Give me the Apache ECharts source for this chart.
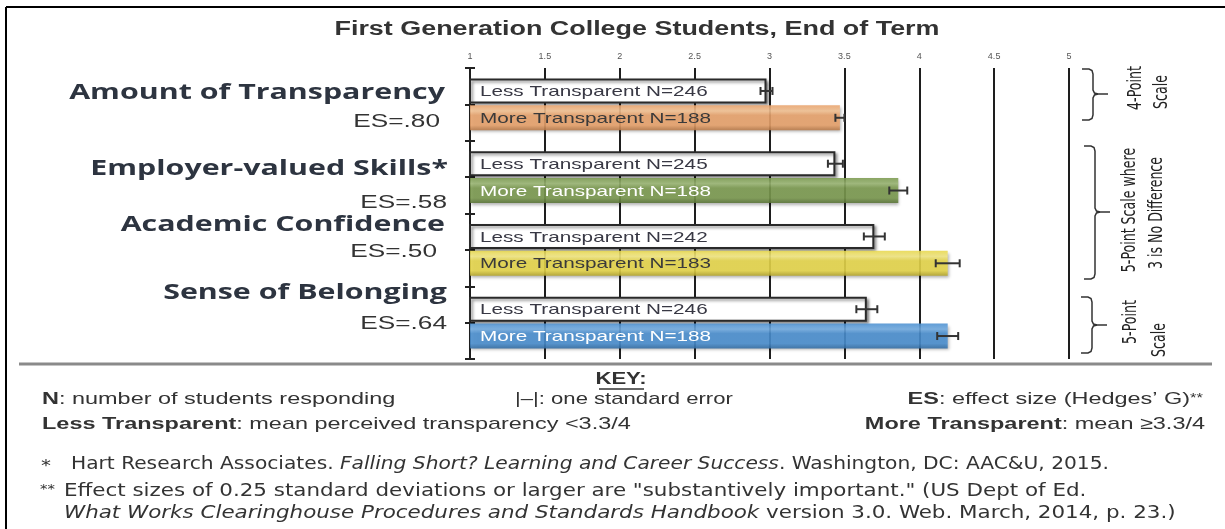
<!DOCTYPE html>
<html>
<head>
<meta charset="utf-8">
<title>First Generation College Students, End of Term</title>
<script src="https://cdn.jsdelivr.net/npm/echarts@6/dist/echarts.min.js"></script>
<style>
  html, body { margin: 0; padding: 0; background: #fff; }
  #chart { width: 1225px; height: 529px; }
</style>
</head>
<body>
<div id="chart"></div>
<script>
// data
const categories = ['Amount of Transparency', 'Employer-valued Skills*', 'Academic Confidence', 'Sense of Belonging'];
const effectSizes = ['ES=.80', 'ES=.58', 'ES=.50', 'ES=.64'];
const groups = ['Less Transparent', 'More Transparent'];
const lessMean = [2.98, 3.44, 3.70, 3.65];
const lessSE = [0.04, 0.05, 0.07, 0.07];
const lessN = [246, 245, 242, 246];
const moreMean = [3.47, 3.86, 4.19, 4.19];
const moreSE = [0.03, 0.06, 0.08, 0.07];
const moreN = [188, 188, 183, 188];
const xTicks = [1, 1.5, 2, 2.5, 3, 3.5, 4, 4.5, 5];
const scaleNotes = [['4-Point', 'Scale'], ['5-Point Scale where', '3 is No Difference'], ['5-Point', 'Scale']];

// styling / layout
const S = 1.38; // the source picture is stretched horizontally
const SANS = "'Liberation Sans', Arial, sans-serif";
const NARROW = "'Liberation Sans Narrow', 'DejaVu Sans Condensed', 'Liberation Sans', sans-serif";
const BOLD = "'Open Sans', 'Liberation Sans', sans-serif";
const BAR_GAP = 0.08;
const CAT_GAP = 0.29;
const moreColors = [
  { hi: '#f6c596', base: '#e9a36c', dark: '#b97a48' },
  { hi: '#9cb875', base: '#7b9a4f', dark: '#5a7437' },
  { hi: '#f5ea85', base: '#e7d74b', dark: '#b5a62c' },
  { hi: '#74aee4', base: '#4a8fd0', dark: '#336ea6' }
];
const moreLabelColors = ['#3a3a3a', '#ffffff', '#3a3a3a', '#ffffff'];
const leftLabelPos = [[445, 93, 440, 122], [448, 169, 447, 203], [445, 225, 437, 252], [447, 293, 447, 324]];
const brackets = [
  { x: 1093, top: 69, bottom: 120, mid: 94 },
  { x: 1095, top: 146, bottom: 279, mid: 212 },
  { x: 1092, top: 297, bottom: 353, mid: 325 }
];
const notePos = [[[1136, 88], [1162, 92]], [[1130, 210], [1157, 213]], [[1131, 322], [1160, 340]]];

const chart = echarts.init(document.getElementById('chart'));

function txt(x, y, text, o) {
  const align = o.align || 'left';
  return {
    type: 'text', x: x, y: y, silent: true,
    scaleX: o.scaleX == null ? S : o.scaleX,
    scaleY: o.scaleY == null ? 1 : o.scaleY,
    rotation: o.rotation || 0,
    style: {
      text: text, fill: o.color || '#333',
      fontSize: o.size, fontFamily: o.family || SANS,
      fontWeight: o.weight || 'normal', fontStyle: o.fontStyle || 'normal',
      align: align, textAlign: align,
      verticalAlign: 'middle', textVerticalAlign: 'middle',
      lineHeight: o.lineHeight, rich: o.rich
    }
  };
}

function richSet(size, family) {
  const base = { fontSize: size, fontFamily: family, fill: '#333' };
  return {
    n: base,
    b: Object.assign({}, base, { fontWeight: 'bold' }),
    i: Object.assign({}, base, { fontStyle: 'italic' }),
    s: Object.assign({}, base, { fontSize: size - 5 })
  };
}

// curly bracket "}" as two polylines plus the middle nub
function bracketLines(b) {
  const st = { stroke: '#333', lineWidth: 1.5, fill: null };
  const x = b.x;
  return [
    { type: 'polyline', silent: true, style: st, shape: { points: [
      [x - 11, b.top], [x - 4, b.top], [x - 1, b.top + 1.5], [x, b.top + 5],
      [x, b.mid - 4], [x + 1.5, b.mid - 1], [x + 5, b.mid], [x + 15, b.mid]
    ] } },
    { type: 'polyline', silent: true, style: st, shape: { points: [
      [x + 5, b.mid], [x + 1.5, b.mid + 1], [x, b.mid + 4],
      [x, b.bottom - 5], [x - 1, b.bottom - 1.5], [x - 4, b.bottom], [x - 11, b.bottom]
    ] } }
  ];
}

const barItems = [];
categories.forEach(function (c, i) {
  barItems.push([i, lessMean[i], lessSE[i], 0, lessN[i]]);
  barItems.push([i, moreMean[i], moreSE[i], 1, moreN[i]]);
});

function renderBarExtras(params, api) {
  const cat = api.value(0), val = api.value(1), se = api.value(2), g = api.value(3), n = api.value(4);
  const c = api.coord([val, cat]);
  const band = api.size([0, 1])[1];
  const bw = band * (1 - CAT_GAP) / (2 + BAR_GAP);
  const y = c[1] - (2 + BAR_GAP) * bw / 2 + g * bw * (1 + BAR_GAP) + bw / 2;
  const x0 = api.coord([xTicks[0], cat])[0];
  const x1 = api.coord([val - se, cat])[0];
  const x2 = api.coord([val + se, cat])[0];
  const lineStyle = { stroke: '#333', lineWidth: 2 };
  return {
    type: 'group',
    children: [
      {
        type: 'text', x: x0 + 10, y: y + 1, scaleX: S,
        style: {
          text: groups[g] + ' N=' + n,
          fill: g === 0 ? '#383844' : moreLabelColors[cat],
          fontSize: 15, fontFamily: SANS,
          align: 'left', textAlign: 'left', verticalAlign: 'middle', textVerticalAlign: 'middle'
        }
      },
      { type: 'line', shape: { x1: x1, y1: y, x2: x2, y2: y }, style: lineStyle },
      { type: 'line', shape: { x1: x1, y1: y - 4, x2: x1, y2: y + 4 }, style: lineStyle },
      { type: 'line', shape: { x1: x2, y1: y - 4, x2: x2, y2: y + 4 }, style: lineStyle }
    ]
  };
}

const graphics = [];
// frame and separator
graphics.push({ type: 'line', shape: { x1: 6, y1: 7, x2: 1225, y2: 7 }, style: { stroke: '#000', lineWidth: 2 }, silent: true });
graphics.push({ type: 'line', shape: { x1: 6, y1: 7, x2: 6, y2: 529 }, style: { stroke: '#000', lineWidth: 2 }, silent: true });
graphics.push({ type: 'line', shape: { x1: 19, y1: 364, x2: 1212, y2: 364 }, style: { stroke: '#8a8a8a', lineWidth: 3 }, silent: true });

// title
graphics.push(txt(637, 30, 'First Generation College Students, End of Term', { size: 19.5, weight: 'bold', align: 'center', color: '#333' }));

// category names and effect sizes
categories.forEach(function (c, i) {
  const p = leftLabelPos[i];
  graphics.push(txt(p[0], p[1], c, { size: 22, weight: 'bold', family: BOLD, align: 'right', color: '#2d3440' }));
  graphics.push(txt(p[2], p[3], effectSizes[i], { size: 19, align: 'right', color: '#333' }));
});

// scale brackets and notes
brackets.forEach(function (b, i) {
  bracketLines(b).forEach(function (el) { graphics.push(el); });
  scaleNotes[i].forEach(function (t, j) {
    const p = notePos[i][j];
    graphics.push(txt(p[0], p[1], t, { size: 14, family: NARROW, align: 'center', rotation: Math.PI / 2, scaleX: 1, scaleY: S, color: '#222' }));
  });
});

// key
const keyRich = richSet(17, SANS);
graphics.push(txt(621, 380, 'KEY:', { size: 16, weight: 'bold', align: 'center' }));
graphics.push({ type: 'line', shape: { x1: 599, y1: 389, x2: 644, y2: 389 }, style: { stroke: '#333', lineWidth: 1.5 }, silent: true });
graphics.push(txt(42, 399, '{b|N}{n|: number of students responding}', { size: 17, rich: keyRich }));
graphics.push(txt(515, 399, '|\u2013|: one standard error', { size: 17, scaleX: 1.3 }));
graphics.push(txt(1203, 399, '{b|ES}{n|: effect size (Hedges\u2019 G)}{s|**}', { size: 17, align: 'right', rich: keyRich }));
graphics.push(txt(42, 424, '{b|Less Transparent}{n|: mean perceived transparency <3.3/4}', { size: 17, rich: keyRich }));
graphics.push(txt(1205, 424, '{b|More Transparent}{n|: mean \u22653.3/4}', { size: 17, align: 'right', rich: keyRich }));

// footnotes
const noteRich = richSet(17, NARROW);
graphics.push(txt(41, 467, '*', { size: 16, family: NARROW }));
graphics.push(txt(71, 465, '{n|Hart Research Associates. }{i|Falling Short? Learning and Career Success}{n|. Washington, DC: AAC&U, 2015.}', { size: 17, family: NARROW, rich: noteRich, scaleX: 1.32 }));
graphics.push(txt(40, 490, '**', { size: 12, family: NARROW }));
graphics.push(txt(64, 492, '{n|Effect sizes of 0.25 standard deviations or larger are "substantively important." (US Dept of Ed.}', { size: 17, family: NARROW, rich: noteRich, scaleX: 1.4 }));
graphics.push(txt(64, 514, '{i|What Works Clearinghouse Procedures and Standards Handbook}{n| version 3.0. Web. March, 2014, p. 23.)}', { size: 17, family: NARROW, rich: noteRich, scaleX: 1.4 }));

const tickAxis = function (inside) {
  return {
    type: 'category', inverse: true, position: 'left',
    data: new Array(categories.length * 2).fill(''),
    axisLine: { show: false },
    axisLabel: { show: false },
    splitLine: { show: false },
    axisTick: { show: true, inside: inside, interval: 0, length: 5, lineStyle: { color: '#222', width: 2 } }
  };
};

const option = {
  animation: false,
  textStyle: { fontFamily: SANS },
  grid: { left: 470, right: 156, top: 68, bottom: 170 },
  xAxis: {
    type: 'value', position: 'top',
    min: xTicks[0], max: xTicks[xTicks.length - 1], interval: xTicks[1] - xTicks[0],
    axisLine: { show: false },
    axisTick: { show: false },
    axisLabel: { fontSize: 9, color: '#555', margin: 7 },
    splitLine: { show: true, lineStyle: { color: '#1e1e1e', width: 2 } }
  },
  yAxis: [
    {
      type: 'category', inverse: true, data: categories,
      axisLine: { show: true, lineStyle: { color: '#1e1e1e', width: 2 } },
      axisTick: { show: false },
      axisLabel: { show: false }
    },
    tickAxis(false),
    tickAxis(true)
  ],
  series: [
    {
      name: groups[0], type: 'bar', data: lessMean,
      barGap: (BAR_GAP * 100) + '%', barCategoryGap: (CAT_GAP * 100) + '%',
      itemStyle: {
        color: '#ffffff', borderColor: '#2a2a2a', borderWidth: 2,
        shadowColor: 'rgba(0,0,0,0.45)', shadowBlur: 3, shadowOffsetX: 2, shadowOffsetY: 2
      },
      z: 2
    },
    {
      name: groups[1], type: 'bar',
      barGap: (BAR_GAP * 100) + '%', barCategoryGap: (CAT_GAP * 100) + '%',
      data: moreMean.map(function (v, i) {
        const c = moreColors[i];
        return {
          value: v,
          itemStyle: {
            color: new echarts.graphic.LinearGradient(0, 0, 0, 1, [
              { offset: 0, color: c.base },
              { offset: 0.22, color: c.hi },
              { offset: 0.4, color: c.base },
              { offset: 0.8, color: c.base },
              { offset: 1, color: c.dark }
            ])
          }
        };
      }),
      itemStyle: {
        opacity: 0.88,
        shadowColor: 'rgba(0,0,0,0.35)', shadowBlur: 3, shadowOffsetX: 1, shadowOffsetY: 2
      },
      z: 2
    },
    {
      type: 'custom', data: barItems, renderItem: renderBarExtras,
      encode: { x: 1, y: 0 }, z: 5, silent: true
    }
  ],
  graphic: graphics
};

chart.setOption(option);
</script>
</body>
</html>
